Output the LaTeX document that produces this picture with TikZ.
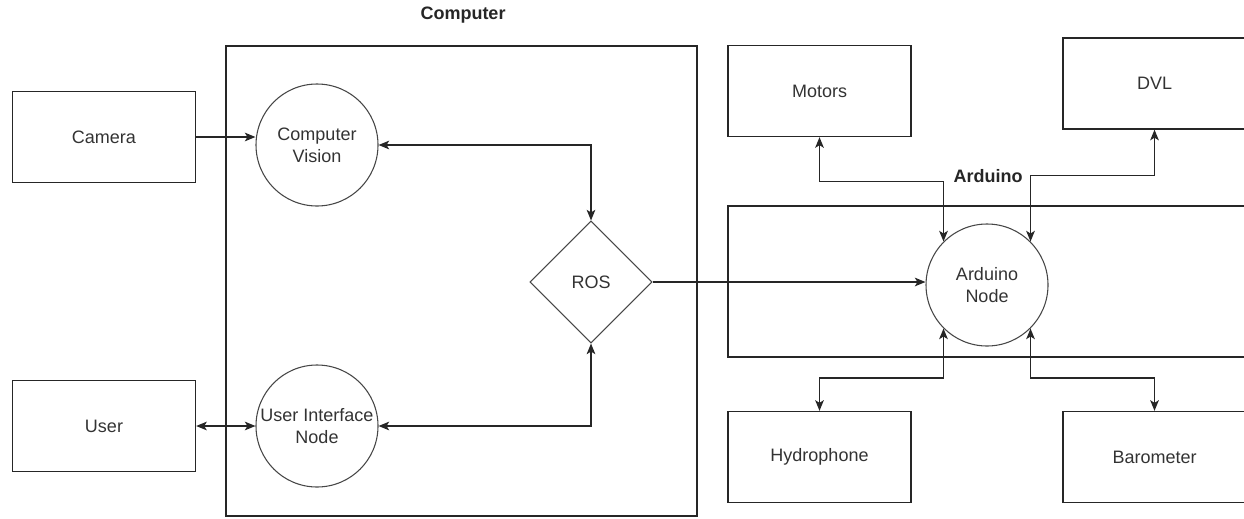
\documentclass[tikz,border=0pt]{standalone}
\usepackage{fontspec}
\setmainfont{Liberation Sans}
\usepackage{tikz}
\usetikzlibrary{positioning,arrows.meta,calc,shapes.geometric}
\definecolor{inkgrey}{RGB}{51,51,51}
\definecolor{linegrey}{RGB}{38,38,38}
\newcommand{\lbl}{\fontsize{13.5}{16.5}\selectfont}
\tikzset{
  blk/.style  ={draw=linegrey, line width=1pt, minimum width=137.25pt, minimum height=68.25pt,
                font=\lbl, text=inkgrey, inner sep=0pt},
  proc/.style ={circle, draw=linegrey!85, line width=0.8pt, minimum size=91.5pt, align=center,
                font=\lbl, text=inkgrey, inner sep=0pt},
  hub/.style  ={diamond, aspect=1, draw=linegrey!85, line width=0.8pt, minimum width=91.5pt,
                minimum height=91.5pt, font=\lbl, text=inkgrey, inner sep=0pt},
  frame/.style={draw=linegrey, line width=1pt, inner sep=0pt},
  ttl/.style  ={font=\lbl\bfseries, text=black!85},
  ar/.style   ={-{Stealth[length=8pt,width=6.5pt,inset=2pt]}, draw=linegrey, line width=1pt},
  dar/.style  ={{Stealth[length=8pt,width=6.5pt,inset=2pt]}-{Stealth[length=8pt,width=6.5pt,inset=2pt]},
                draw=linegrey, line width=1pt},
}
\begin{document}
\begin{tikzpicture}[x=0.75pt,y=-0.75pt]
\useasboundingbox (0,0) rectangle (1244,518);

% containers
\node[frame, minimum width=353.25pt, minimum height=352.5pt] (computer) at (461.5,281) {};
\node[ttl] (computerlbl) at (463,15) {Computer};
\node[frame, minimum width=388.5pt, minimum height=113.25pt] (arduino) at (987,281.5) {};
\node[ttl] (arduinolbl) at (988,176) {Arduino};

% computer side
\node[blk] (camera) at (104,137) {Camera};
\node[blk] (user) at (104,426) {User};
\node[proc] (cv) at (317,145) {Computer\\Vision};
\node[proc] (ui) at (317,426) {User Interface\\Node};
\node[hub] (ros) at (591,282) {ROS};

% arduino side
\node[proc] (ard) at (987,285) {Arduino\\Node};
\node[blk] (motors) at (819.5,91) {Motors};
\node[blk] (dvl) at (1154.5,83.5) {DVL};
\node[blk] (hydro) at (819.5,457) {Hydrophone};
\node[blk] (baro) at (1154.5,457) {Barometer};

% links
\draw[ar] (camera.east) -- (camera.east -| cv.west);
\draw[dar] (user.east) -- (ui.west);
\draw[dar] (cv.east) -| (ros.north);
\draw[dar] (ui.east) -| (ros.south);
\draw[ar] (ros.east) -- (ros.east -| ard.west);

\draw[dar] (motors.south) -- ++(0,44) -| (ard.135);
\draw[dar] (dvl.south) -- ++(0,46) -| (ard.45);
\draw[dar] (hydro.north) -- ++(0,-33) -| (ard.225);
\draw[dar] (baro.north) -- ++(0,-33) -| (ard.315);
\end{tikzpicture}
\end{document}
